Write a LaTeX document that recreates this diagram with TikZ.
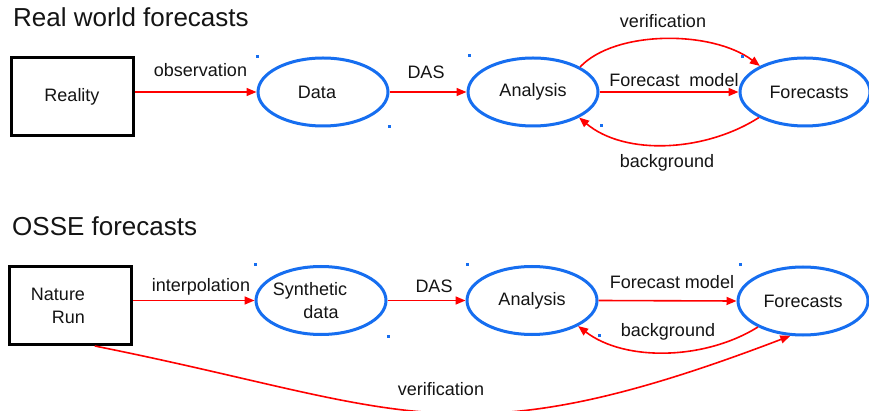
\documentclass[tikz,border=0pt]{standalone}
\usepackage{fontspec}
\setmainfont{Liberation Sans}
\usetikzlibrary{arrows.meta,shapes.geometric}
\definecolor{ellblue}{RGB}{22,110,240}
\definecolor{arrred}{RGB}{255,0,0}
\definecolor{txt}{RGB}{20,20,20}
\begin{document}
\begin{tikzpicture}[x=1pt,y=-1pt,
  every node/.style={font=\fontsize{18}{23}\selectfont, text=txt},
  title/.style={font=\fontsize{26}{30}\selectfont, anchor=base west, inner sep=0},
  box/.style={draw=black, line width=3pt, rectangle, minimum width=122pt, minimum height=78pt, inner sep=0},
  ell/.style={draw=ellblue, ellipse, line width=3pt, minimum width=130pt, minimum height=68pt, inner sep=0},
  flow/.style={draw=arrred, line width=1.6pt, -{Triangle[length=10pt,width=8pt]}},
  lbl/.style={anchor=base, inner sep=0},
  handle/.style={fill=ellblue}]
\useasboundingbox[fill=white] (0,0) rectangle (869,411);

% titles
\node[title] (t1) at (13,27) {Real world forecasts};
\node[title] (t2) at (12,236) {OSSE forecasts};

% row 1
\node[box] (real) at (72,96.5) {Reality};
\node[ell] (data) at (323,92) {\makebox[0pt]{Data\kern12pt}};
\node[ell] (an1) at (533,92) {Analysis};
\node[ell] (fc1) at (805,92) {\makebox[0pt]{\kern8pt Forecasts}};

\draw[flow] (real.east |- data.west) -- (data.west);
\draw[flow] (data.east) -- (an1.west);
\draw[flow] (an1.east) -- (fc1.west);
\draw[flow] (an1.28) .. controls (615,30) and (712,30) .. (fc1.150);
\draw[flow] (fc1.-151) .. controls (705,152) and (625,156) .. (an1.-29);

\node[lbl] (obs) at (200.5,77) {observation};
\node[lbl] (das1) at (426,79) {DAS};
\node[lbl] (ver1) at (663,28) {verification};
\node[lbl] (fm1) at (674,87) {Forecast\ \ model};
\node[lbl] (bg1) at (667,168) {background};

% row 2
\node[box, align=right] (nat) at (70.5,305.5) {Nature\rule{25pt}{0pt}\\Run\rule{25pt}{0pt}};
\node[ell, align=center] (syn) at (321,300.5) {\makebox[0pt]{Synthetic\kern22pt}\\data};
\node[ell] (an2) at (532,300.5) {Analysis};
\node[ell] (fc2) at (803,301) {Forecasts};

\draw[flow] (nat.east |- syn.west) -- (syn.west);
\draw[flow] (syn.east) -- (an2.west);
\draw[flow] (an2.east) -- (fc2.west);
\draw[flow] (fc2.-150) .. controls (705,360) and (625,362) .. (an2.-29);
\draw[flow] (nat.-59) .. controls (405,408) and (455,464) .. (fc2.-110);

\node[lbl] (interp) at (201,291) {interpolation};
\node[lbl] (das2) at (434,292) {DAS};
\node[lbl] (fm2) at (672,289) {Forecast model};
\node[lbl] (bg2) at (668,336) {background};
\node[lbl] (ver2) at (441,395) {verification};

% selection handles
\foreach \hx/\hy in {257/57, 469/56, 389/127, 742/57, 601/126,
                     255/265, 467/265, 388/336, 740/265, 599/335}
  \fill[handle] (\hx-1.5,\hy-1.5) rectangle ++(3,3);
\end{tikzpicture}
\end{document}
